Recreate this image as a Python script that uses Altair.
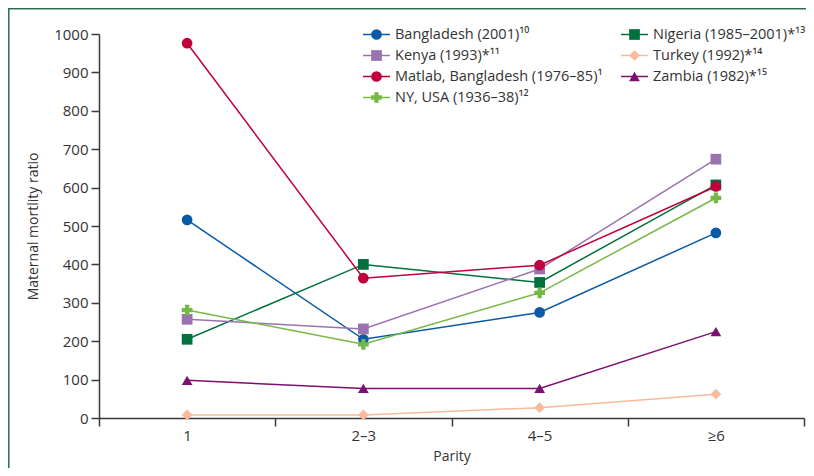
import altair as alt
import pandas as pd

parity = ["1", "2–3", "4–5", "≥6"]

# legend order (row-major in a 2-column legend)
series = [
    "Bangladesh (2001)¹⁰",
    "Nigeria (1985–2001)*¹³",
    "Kenya (1993)*¹¹",
    "Turkey (1992)*¹⁴",
    "Matlab, Bangladesh (1976–85)¹",
    "Zambia (1982)*¹⁵",
    "NY, USA (1936–38)¹²",
]

bangladesh = [516, 205, 275, 482]
nigeria = [205, 400, 353, 607]
kenya = [257, 232, 388, 674]
turkey = [8, 8, 27, 62]
matlab = [976, 364, 398, 603]
zambia = [98, 77, 77, 225]
ny_usa = [281, 192, 326, 573]

values = [bangladesh, nigeria, kenya, turkey, matlab, zambia, ny_usa]

colors = ["#0a5aa5", "#00703c", "#9b72b0", "#f9b99b", "#c0003d", "#7d0f6f", "#76b845"]
markers = ["circle", "square", "square", "diamond", "circle", "triangle-up", "cross"]

rows = []
for s, vals, m in zip(series, values, markers):
    for p, v in zip(parity, vals):
        rows.append({"series": s, "parity": p, "value": v, "marker": m})
df = pd.DataFrame(rows)

leg_df = pd.DataFrame({
    "series": series,
    "marker": markers,
    "col": [i % 2 for i in range(len(series))],
    "row": [i // 2 for i in range(len(series))],
})

FONT = "Open Sans"
cscale = alt.Scale(domain=series, range=colors)

x = alt.X("parity:N", sort=parity, title="Parity",
          scale=alt.Scale(type="band", domain=parity, paddingInner=0, paddingOuter=0),
          axis=alt.Axis(tickBand="extent", labelAngle=0, labelPadding=2, titlePadding=6))
y = alt.Y("value:Q", title="Maternal mortlity ratio",
          scale=alt.Scale(domain=[0, 1000], nice=False),
          axis=alt.Axis(values=list(range(0, 1001, 100)), format="d",
                        labelPadding=3, titlePadding=13))

base = alt.Chart(df)

lines = base.mark_line(strokeWidth=1.5).encode(
    x=x, y=y,
    color=alt.Color("series:N", scale=cscale, legend=None),
    detail="series:N",
)

points = base.mark_point(filled=True, opacity=1, size=115).encode(
    x=x, y=y,
    color=alt.Color("series:N", scale=cscale, legend=None),
    shape=alt.Shape("marker:N", scale=None, legend=None),
)

main = alt.layer(lines, points)

# ---- legend, drawn as its own small layer with its own scales ----
# one legend column step = 258 px, row step = 21 px
lx = alt.Scale(domain=[0, 1], range=[264, 522])
ly = alt.Scale(domain=[0, 3], range=[0.5, 63.5])
lbase = alt.Chart(leg_df).transform_calculate(
    x0="datum.col",
    x1="datum.col + 27/258",
    xm="datum.col + 13.5/258",
    xt="datum.col + 32/258",
)
leg_lines = lbase.mark_rule(strokeWidth=1.5).encode(
    x=alt.X("x0:Q", scale=lx, axis=None),
    x2="x1:Q",
    y=alt.Y("row:Q", scale=ly, axis=None),
    color=alt.Color("series:N", scale=cscale, legend=None),
)
leg_pts = lbase.mark_point(filled=True, opacity=1, size=115).encode(
    x=alt.X("xm:Q", scale=lx, axis=None),
    y=alt.Y("row:Q", scale=ly, axis=None),
    color=alt.Color("series:N", scale=cscale, legend=None),
    shape=alt.Shape("marker:N", scale=None, legend=None),
)
leg_txt = lbase.mark_text(align="left", baseline="middle", font=FONT, fontSize=14.5,
                          color="#333333").encode(
    x=alt.X("xt:Q", scale=lx, axis=None),
    y=alt.Y("row:Q", scale=ly, axis=None),
    text="series:N",
)
legend = alt.layer(leg_lines, leg_pts, leg_txt)

one = pd.DataFrame({"a": [0]})
frame_v = alt.Chart(one).mark_rule(color="#2a6e4e", strokeWidth=1.5).encode(
    x=alt.value(-90.2), y=alt.value(-25.2), y2=alt.value(440)
)
frame_h = alt.Chart(one).mark_rule(color="#2a6e4e", strokeWidth=1.5).encode(
    x=alt.value(-91), x2=alt.value(707), y=alt.value(-25.2)
)
frame = alt.layer(frame_v, frame_h)

chart = alt.layer(frame, main, legend).resolve_scale(
    x="independent", y="independent"
).properties(
    width=705, height=384,
    padding={"left": 91, "top": 26, "right": 2, "bottom": 50},
    autosize=alt.AutoSizeParams(type="none"),
).configure_view(stroke=None).configure_axis(
    grid=False,
    domainColor="#3a3a3a", domainWidth=1.5,
    tickColor="#3a3a3a", tickWidth=1.5, tickSize=8,
    labelFont=FONT, labelFontSize=15, labelColor="#333333",
    titleFont=FONT, titleFontSize=14, titleFontWeight="normal", titleColor="#333333",
)

chart.save("out.html", embed_options={"renderer": "svg", "actions": False})
